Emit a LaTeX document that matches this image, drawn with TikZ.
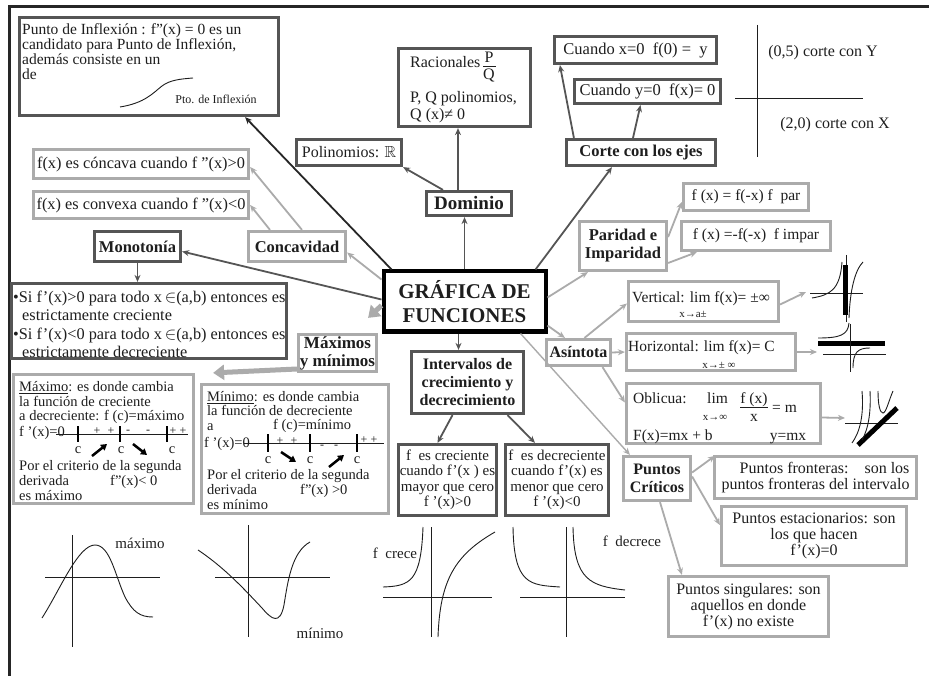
\documentclass[tikz,border=0pt]{standalone}
\usepackage{fontspec}
\usepackage{amssymb}
\setmainfont{Liberation Serif}
\usetikzlibrary{arrows.meta,calc}
\definecolor{dgray}{HTML}{555555}
\definecolor{lgray}{HTML}{ABABAB}
\definecolor{tcol}{HTML}{1E1E1E}
\newcommand{\myfs}[2]{\fontsize{#1}{#2}\selectfont}
\begin{document}
\begin{tikzpicture}[x=1pt,y=-1pt,
 every node/.style={text=tcol},
 dbox/.style={draw=dgray, line width=3.2pt, fill=white, inner sep=1pt, align=center, font=\myfs{16}{16}},
 gbox/.style={draw=lgray, line width=3.2pt, fill=white, inner sep=1pt, align=center, font=\myfs{16}{16}},
 lbl/.style={font=\bfseries\myfs{16.5}{18}},
 darr/.style={draw=dgray, line width=1.8pt, -{Stealth[length=7pt,width=6pt]}},
 garr/.style={draw=lgray, line width=1.8pt, -{Stealth[length=7pt,width=6pt]}},
 bigarr/.style={draw=lgray, line width=5pt, -{Triangle[length=11pt,width=15pt]}},
 txt/.style={inner sep=0pt, anchor=base west, font=\myfs{16}{16}},
 mt/.style={inner sep=0pt, anchor=base west, font=\myfs{14.5}{15}},
 sm/.style={inner sep=0pt, anchor=base, font=\myfs{11}{11}},
 sg/.style={inner sep=0pt, anchor=base, font=\myfs{12}{12}},
 sk/.style={draw=tcol, line width=0.9pt},
 bar/.style={draw=black, line width=5pt},
 updn/.style={draw=black, line width=2.5pt, -{Triangle[length=6pt,width=7pt]}}
]
\useasboundingbox (0,0) rectangle (929,676);
\fill[white] (0,0) rectangle (929,676);
% frame
\draw[line width=3pt, black!85] (929,7) -- (9,7) -- (9,676);

% ---------- boxes ----------
\node[dbox, minimum width=259, minimum height=98] (inflex) at (149,66.5) {};
\node[txt, font=\myfs{15.5}{15}] at (22,35) {Punto de Inflexión : f"(x) = 0 es un};
\node[txt, font=\myfs{15.5}{15}] at (22,50) {candidato para Punto de Inflexión,};
\node[txt, font=\myfs{15.5}{15}] at (22,65) {además consiste en un};
\node[txt, font=\myfs{15.5}{15}] at (22,80) {de};
\draw[sk] (120,107) .. controls (145,103) and (153,93) .. (162,86) .. controls (170,80) and (180,79) .. (193,78);
\node[inner sep=0pt, font=\myfs{12}{12}] at (216,99) {Pto. de Inflexión};

\node[dbox, minimum width=132, minimum height=78] (racion) at (464.5,87.5) {};
\node[txt] at (410,68) {Racionales};
\node[txt, anchor=base] at (489,63) {P};
\draw[line width=0.8pt, tcol] (483,66.5) -- (496,66.5);
\node[txt, anchor=base] at (489,80) {Q};
\node[txt] at (410,103) {P, Q polinomios,};
\node[txt] at (410,120) {Q (x)≠ 0};

\node[dbox, minimum width=105, minimum height=26] (polin) at (349,152.5) {Polinomios: $\mathbb{R}$};
\node[dbox, lbl, font=\bfseries\myfs{19}{19}, minimum width=85, minimum height=24] (dominio) at (469,203.5) {Dominio};

\node[dbox, minimum width=162, minimum height=27, font=\myfs{16.5}{16}] (cx0) at (635.5,50) {Cuando x=0\enspace f(0) =\enspace y};
\node[dbox, minimum width=146, minimum height=24, font=\myfs{16.5}{16}] (cy0) at (647.5,91.5) {Cuando y=0\enspace f(x)= 0};
\node[dbox, lbl, minimum width=149, minimum height=26] (corte) at (641,152.5) {Corte con los ejes};

\draw[sk] (757,25) -- (757,157);
\draw[sk] (735,98) -- (863,98);
\node[inner sep=0pt, font=\myfs{16}{16}] at (823,53) {(0,5) corte con Y};
\node[inner sep=0pt, font=\myfs{16}{16}] at (835,125) {(2,0) corte con X};

\node[draw=black, fill=white, line width=4pt, minimum width=162, minimum height=60, align=center, font=\bfseries\myfs{21}{24}] (main) at (464.5,301.5) {GRÁFICA DE\\FUNCIONES};

\node[gbox, minimum width=215, minimum height=29, font=\myfs{16.3}{16}] (concava) at (141,164) {f(x) es cóncava cuando f "(x)>0};
\node[gbox, minimum width=215, minimum height=27, font=\myfs{16.3}{16}] (convexa) at (141,205) {f(x) es convexa cuando f "(x)<0};
\node[dbox, lbl, minimum width=86, minimum height=30] (monot) at (137.5,246.5) {Monotonía};
\node[gbox, lbl, minimum width=97, minimum height=30] (concav) at (297,246.5) {Concavidad};

\node[dbox, minimum width=275, minimum height=75] (monotxt) at (149,321) {};
\node[txt, font=\myfs{16.3}{18}] at (13,303) {\textbullet Si f'(x)>0 para todo x\,$\in$(a,b) entonces es};
\node[txt, font=\myfs{16.3}{18}] at (22,321) {estrictamente creciente};
\node[txt, font=\myfs{16.3}{18}] at (13,340) {\textbullet Si f'(x)<0 para todo x\,$\in$(a,b) entonces es};
\node[txt, font=\myfs{16.3}{18}] at (22,357) {estrictamente decreciente};

\node[gbox, lbl, font=\bfseries\myfs{17}{18}, minimum width=78, minimum height=37] (maxmin) at (337.5,353) {Máximos\\y mínimos};

% Maximo box
\node[gbox, minimum width=180, minimum height=129] (maxbox) at (103.5,439) {};
\node[mt] at (19,391) {\underline{Máximo}: es donde cambia};
\node[mt] at (19,406) {la función de creciente};
\node[mt] at (19,420) {a decreciente: f (c)=máximo};
\node[mt] at (19,436) {f '(x)=0};
\draw[line width=0.8pt, tcol] (56,434) -- (188,434);
\foreach \x in {78,120,167} \draw[line width=2.5pt] (\x,426) -- (\x,442);
\node[sg] at (97,434) {+};
\node[sg] at (111,434) {+};
\node[sg] at (128,433) {-};
\node[sg] at (148,433) {-};
\node[sg] at (178,434) {+ +};
\node[mt, anchor=base] at (78,453) {c};
\node[mt, anchor=base] at (121,453) {c};
\node[mt, anchor=base] at (172,453) {c};
\draw[updn] (92,456) -- (107,444);
\draw[updn] (133,444) -- (147,455);
\node[mt] at (19,470) {Por el criterio de la segunda};
\node[mt] at (19,485) {derivada};
\node[mt] at (110,485) {f"(x)< 0};
\node[mt] at (19,500) {es máximo};

% Minimo box
\node[gbox, minimum width=187, minimum height=129] (minbox) at (295,449) {};
\node[mt] at (207,401) {\underline{Mínimo}: es donde cambia};
\node[mt] at (207,415) {la función de decreciente};
\node[mt] at (207,430) {a};
\node[mt] at (273,429) {f (c)=mínimo};
\node[mt] at (204,447) {f '(x)=0};
\draw[line width=0.8pt, tcol] (244,443) -- (384,443);
\foreach \x in {268,310,357} \draw[line width=2.5pt] (\x,434) -- (\x,452);
\node[sg] at (280,444) {+};
\node[sg] at (294,444) {+};
\node[sg] at (322,448) {-};
\node[sg] at (336,448) {-};
\node[sg] at (369,443) {+ +};
\node[mt, anchor=base] at (268,463) {c};
\node[mt, anchor=base] at (310,463) {c};
\node[mt, anchor=base] at (357,463) {c};
\draw[updn] (281,452) -- (296,462);
\draw[updn] (329,467) -- (344,455);
\node[mt] at (207,479) {Por el criterio de la segunda};
\node[mt] at (207,494) {derivada};
\node[mt] at (300,494) {f"(x) >0};
\node[mt] at (207,509) {es mínimo};

% Intervalos
\node[dbox, lbl, font=\bfseries\myfs{16}{18}, minimum width=112, minimum height=62] (interv) at (467.5,382.5) {Intervalos de\\crecimiento y\\decrecimiento};
\node[dbox, font=\myfs{15}{15.5}, minimum width=98, minimum height=71] (crec) at (447.5,480) {f\enspace es creciente\\cuando f'(x ) es\\mayor que cero\\f '(x)>0};
\node[dbox, font=\myfs{15}{15.5}, minimum width=103, minimum height=71] (decr) at (557,480) {f\enspace es decreciente\\cuando f'(x) es\\menor que cero\\f '(x)<0};

% Paridad
\node[gbox, lbl, minimum width=87, minimum height=49] (parid) at (623,246) {Paridad e\\Imparidad};
\node[gbox, font=\myfs{15.5}{16}, minimum width=125, minimum height=27] (par) at (746,197) {f (x) = f(-x) f\enspace par};
\node[gbox, font=\myfs{15.5}{16}, minimum width=149, minimum height=29] (impar) at (756,236) {f (x) =-f(-x)\enspace f impar};

% Asintota
\node[gbox, lbl, font=\bfseries\myfs{16}{16}, minimum width=64, minimum height=26] (asint) at (578.5,352.5) {Asíntota};
\node[gbox, minimum width=150, minimum height=40] (vert) at (703.5,301.5) {};
\node[txt, font=\myfs{15.5}{15}] at (632,302) {Vertical: lim f(x)= ±∞};
\node[sm] at (693,317) {x→a±};
\node[gbox, minimum width=169, minimum height=37] (horiz) at (711,352) {};
\node[txt, font=\myfs{15.5}{15}] at (628,352) {Horizontal: lim f(x)= C};
\node[sm] at (719,368) {x→±\ ∞};
\node[gbox, minimum width=194, minimum height=60] (oblic) at (723.5,413.5) {};
\node[txt, font=\myfs{15.5}{15}] at (633,403) {Oblicua:};
\node[txt, font=\myfs{15.5}{15}] at (707,403) {lim};
\node[txt, anchor=base, font=\myfs{15.5}{15}] at (754,403) {f (x)};
\draw[line width=0.8pt, tcol] (740,407.5) -- (768,407.5);
\node[txt, anchor=base, font=\myfs{15.5}{15}] at (754,421) {x};
\node[txt, font=\myfs{15.5}{15}] at (772,412) {= m};
\node[sm] at (715,420) {x→∞};
\node[txt, font=\myfs{15.5}{15}] at (633,440) {F(x)=mx + b};
\node[txt, anchor=base, font=\myfs{15.5}{15}] at (788,440) {y=mx};

% Puntos criticos
\node[gbox, lbl, font=\bfseries\myfs{16}{18}, minimum width=67, minimum height=44] (pcrit) at (657,478.5) {Puntos\\Críticos};
\node[gbox, align=right, minimum width=202, minimum height=42] (pfront) at (815.5,477.5) {Puntos fronteras:\quad son los\\puntos fronteras del intervalo};
\node[gbox, minimum width=185, minimum height=59] (pestac) at (814,536) {Puntos estacionarios: son\\los que hacen\hspace*{2.5em}\\f'(x)=0};
\node[gbox, minimum width=160, minimum height=60] (psing) at (748.5,606.5) {Puntos singulares: son\\aquellos en donde\\f'(x) no existe};

% sketch targets
\coordinate (vsk) at (806,292);
\coordinate (hsk) at (817,352);
\coordinate (osk) at (845,418);

% ---------- connectors ----------
\draw[darr] (main.north) -- (main.north |- dominio.south);
\coordinate (d1) at ($(dominio.north)+(-11,0)$);
\draw[darr] (d1) -- (d1 |- racion.south);
\draw[darr] ($(dominio.north)+(-26,0)$) -- (polin.south east);
\draw[darr, draw=black!85] ($(main.north west)+(10,0)$) -- ($(inflex.south east)+(-35,0)$);
\draw[darr] ($(main.west)+(0,-2)$) -- ($(monot.east)+(0,5)$);
\draw[darr] (monot.south) -- (monot.south |- monotxt.north);
\draw[darr] ($(main.north east)+(-12,0)$) -- ($(corte.south)+(-29,0)$);
\draw[darr] ($(corte.north west)+(9,0)$) -- ($(cx0.south west)+(7,0)$);
\draw[darr] ($(corte.north)+(-8,0)$) -- ($(cy0.south)+(-7,0)$);
\coordinate (m1) at ($(main.south)+(-6,0)$);
\draw[darr] (m1) -- (m1 |- interv.north);
\draw[darr] ($(interv.south)+(-15,0)$) -- ($(crec.north)+(-10,0)$);
\draw[darr] ($(interv.south)+(40,0)$) -- ($(decr.north)+(-22,0)$);

\draw[garr] ($(main.west)+(0,-22)$) -- ($(concav.east)+(0,6)$);
\draw[garr] ($(concav.north)+(5,0)$) -- ($(concava.east)+(0,3)$);
\draw[garr] ($(concav.north)+(-27,0)$) -- (convexa.east);
\draw[bigarr] ($(main.west)+(0,4)$) -- ($(maxmin.north east)+(-10,-15)$);
\draw[bigarr] ($(maxmin.west)+(0,16)$) -- ($(maxbox.north east)+(18,0)$);
\draw[garr] ($(main.east)+(0,-4)$) -- ($(parid.south west)+(10,0)$);
\draw[garr] ($(parid.east)+(0,-9)$) -- ($(par.west)+(0,5)$);
\draw[garr] ($(parid.east)+(0,17)$) -- ($(impar.south west)+(17,0)$);
\draw[garr] ($(main.south east)+(0,-8)$) -- ($(asint.north west)+(20,0)$);
\draw[garr] ($(asint.north)+(6,0)$) -- ($(vert.west)+(0,2)$);
\draw[garr] (asint.east) -- (horiz.west);
\draw[garr] ($(asint.south)+(24,0)$) -- ($(oblic.west)+(0,-11)$);
\draw[garr] ($(vert.east)+(0,3)$) -- (vsk);
\draw[garr] (horiz.east) -- (hsk);
\draw[garr] ($(oblic.east)+(0,4)$) -- (osk);
\draw[garr, line width=1.4pt] ($(main.south east)+(-27,0)$) -- ($(pcrit.north west)+(8,0)$);
\draw[garr] ($(pcrit.east)+(0,-6)$) -- ($(pfront.north west)+(2,1)$);
\draw[garr] ($(pcrit.east)+(0,-2)$) -- ($(pestac.west)+(0,-11)$);
\draw[garr] ($(pcrit.south)+(3,0)$) -- ($(psing.north west)+(15,0)$);

% ---------- asymptote sketches ----------
\draw[sk] (810,293) -- (863,293);
\draw[sk] (846,255) -- (846,322);
\draw[bar] (845,265) -- (845,315);
\draw[sk] (812,298) .. controls (830,295) and (840,290) .. (842,262);
\draw[sk] (849,318) .. controls (850,290) and (855,270) .. (863,262);
\draw[sk] (849,323) .. controls (848,335) and (840,338) .. (818,338);
\draw[bar] (818,343) -- (885,343);
\draw[sk] (823,354) -- (886,354);
\draw[sk] (850,324) -- (850,372);
\draw[sk] (853,368) .. controls (853,352) and (858,348) .. (870,348);
\draw[sk] (845,423) -- (898,423);
\draw[bar] (858,445) -- (897,408);
\draw[sk] (862,391) .. controls (864,415) and (860,432) .. (852,443);
\draw[sk] (870,391) .. controls (871,410) and (869,428) .. (862,440);
\draw[sk] (878,391) .. controls (878,405) and (880,413) .. (883,413) .. controls (886,413) and (889,400) .. (893,391);

% ---------- bottom graphs ----------
\draw[sk] (72,535) -- (72,647);
\draw[sk] (45,577) -- (160,577);
\draw[sk] (42,618) .. controls (60,590) and (78,545) .. (95,545) .. controls (110,545) and (115,575) .. (125,597) .. controls (133,612) and (140,617) .. (153,617);
\node[inner sep=0pt, font=\myfs{15}{15}] at (140,543) {máximo};

\draw[sk] (248,525) -- (248,637);
\draw[sk] (215,577) -- (330,577);
\draw[sk] (198,550) .. controls (225,568) and (245,590) .. (262,608) .. controls (272,620) and (280,625) .. (284,605) .. controls (288,580) and (292,552) .. (310,542);
\node[inner sep=0pt, font=\myfs{15}{15}] at (320,633) {mínimo};

\draw[sk] (383,597) -- (492,597);
\draw[sk] (431,527) -- (431,637);
\draw[sk] (383,587) .. controls (410,586) and (421,582) .. (423,527);
\draw[sk] (438,637) .. controls (440,580) and (455,555) .. (495,532);
\node[inner sep=0pt, font=\myfs{15}{15}] at (395,553) {f\enspace crece};

\draw[sk] (520,597) -- (625,597);
\draw[sk] (566,527) -- (566,637);
\draw[sk] (513,527) .. controls (514,585) and (530,585) .. (560,587);
\draw[sk] (573,527) .. controls (574,580) and (590,586) .. (625,590);
\node[inner sep=0pt, font=\myfs{15}{15}] at (632,541) {f\enspace decrece};
\end{tikzpicture}
\end{document}
